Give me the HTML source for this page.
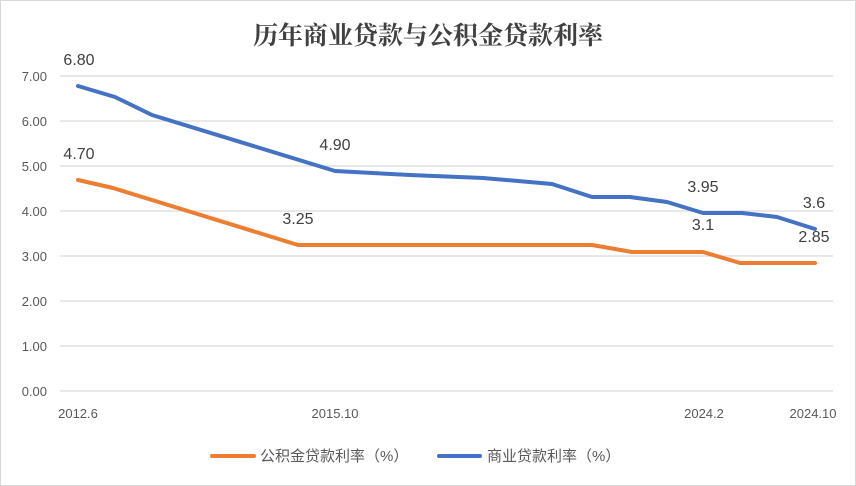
<!DOCTYPE html>
<html><head><meta charset="utf-8"><style>
html,body{margin:0;padding:0;background:#fff;}
svg{display:block;}
</style></head><body>
<svg width="856" height="486" viewBox="0 0 856 486" xmlns="http://www.w3.org/2000/svg">
<rect x="0.5" y="0.5" width="855" height="485" fill="#fff" stroke="#d9d9d9"/>
<text x="428" y="44" text-anchor="middle" font-family="'Noto Serif CJK SC',serif" font-size="25" font-weight="bold" fill="#404040">历年商业贷款与公积金贷款利率</text>
<g stroke="#d9d9d9" stroke-width="1.2">
<line x1="60" x2="833" y1="391" y2="391"/>
<line x1="60" x2="833" y1="346" y2="346"/>
<line x1="60" x2="833" y1="301" y2="301"/>
<line x1="60" x2="833" y1="256" y2="256"/>
<line x1="60" x2="833" y1="211" y2="211"/>
<line x1="60" x2="833" y1="166" y2="166"/>
<line x1="60" x2="833" y1="121" y2="121"/>
<line x1="60" x2="833" y1="76" y2="76"/>
</g>
<g font-family="'Liberation Sans',sans-serif" font-size="13" fill="#595959" text-anchor="end">
<text x="47" y="396">0.00</text>
<text x="47" y="351">1.00</text>
<text x="47" y="306">2.00</text>
<text x="47" y="261">3.00</text>
<text x="47" y="216">4.00</text>
<text x="47" y="171">5.00</text>
<text x="47" y="126">6.00</text>
<text x="47" y="81">7.00</text>
</g>
<g font-family="'Liberation Sans',sans-serif" font-size="13" fill="#595959" text-anchor="middle">
<text x="78" y="418">2012.6</text>
<text x="335" y="418">2015.10</text>
<text x="704" y="418">2024.2</text>
<text x="813" y="418">2024.10</text>
</g>
<polyline fill="none" stroke="#4472c4" stroke-width="4" stroke-linejoin="round" stroke-linecap="round"
points="78,86 115,97 152,115 335,171 410,175 483,178 518,181 552,184 592,197 630,197 667,202 703,213 742,213 777,217 815,229"/>
<polyline fill="none" stroke="#ed7d31" stroke-width="4" stroke-linejoin="round" stroke-linecap="round"
points="78,180 113,188 298,245 592,245 632,252 703,252 740,263 815,263"/>
<g font-family="'Liberation Sans',sans-serif" font-size="16" fill="#404040" text-anchor="middle">
<text x="79" y="65">6.80</text>
<text x="79" y="159">4.70</text>
<text x="335" y="150">4.90</text>
<text x="298" y="224">3.25</text>
<text x="703" y="192">3.95</text>
<text x="703" y="230">3.1</text>
<text x="814" y="208">3.6</text>
<text x="814" y="242">2.85</text>
</g>
<line x1="212" x2="254" y1="456" y2="456" stroke="#ed7d31" stroke-width="4" stroke-linecap="round"/>
<text x="260" y="461" font-family="'Liberation Sans','Noto Sans CJK SC',sans-serif" font-size="15" fill="#595959">公积金贷款利率（%）</text>
<line x1="439" x2="480" y1="456" y2="456" stroke="#4472c4" stroke-width="4" stroke-linecap="round"/>
<text x="487" y="461" font-family="'Liberation Sans','Noto Sans CJK SC',sans-serif" font-size="15" fill="#595959">商业贷款利率（%）</text>
</svg>
</body></html>
